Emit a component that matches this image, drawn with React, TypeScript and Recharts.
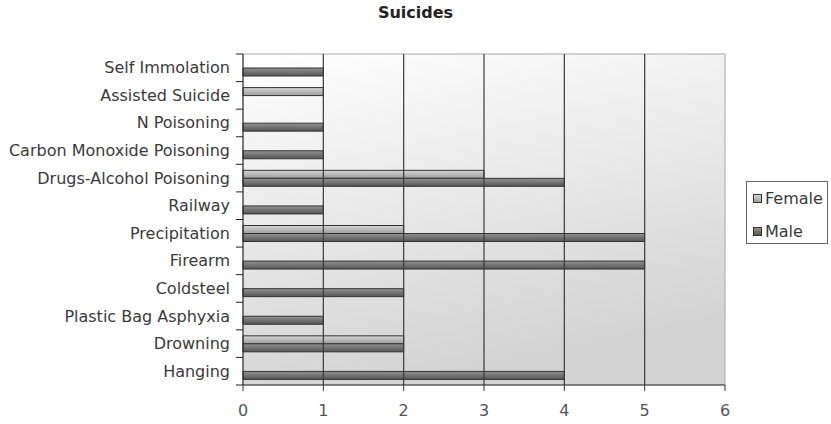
import React from 'react';
import { BarChart, Bar, XAxis, YAxis, CartesianGrid, ReferenceLine, ReferenceArea } from 'recharts';

const categories = [
  'Self Immolation',
  'Assisted Suicide',
  'N Poisoning',
  'Carbon Monoxide Poisoning',
  'Drugs-Alcohol Poisoning',
  'Railway',
  'Precipitation',
  'Firearm',
  'Coldsteel',
  'Plastic Bag Asphyxia',
  'Drowning',
  'Hanging',
];
const female = [0, 1, 0, 0, 3, 0, 2, 0, 0, 0, 2, 0];
const male = [1, 0, 1, 1, 4, 1, 5, 5, 2, 1, 2, 4];
const xTicks = [0, 1, 2, 3, 4, 5, 6];
const gridValues = [1, 2, 3, 4, 5];
const seriesNames = ['Female', 'Male'];

const W = 831;
const H = 424;
const MARGIN = { top: 54, right: 106, bottom: 9, left: 0 };
const X_AXIS_H = 30;
const PLOT_H = H - MARGIN.top - MARGIN.bottom - X_AXIS_H;
const FONT = '"DejaVu Sans", Verdana, sans-serif';

const data = categories.map((name, i) => ({ name, Female: female[i], Male: male[i] }));

// y labels sit mid-band, tick marks at the band edges (Excel style)
function YTick(props: any) {
  const { x, y, payload, index } = props;
  const band = PLOT_H / categories.length;
  return (
    <g>
      <line x1={x - 7} x2={x} y1={y - band / 2} y2={y - band / 2} stroke="#222" />
      {index === categories.length - 1 && (
        <line x1={x - 7} x2={x} y1={y + band / 2} y2={y + band / 2} stroke="#222" />
      )}
      <text x={x - 13} y={y} textAnchor="end" dominantBaseline="central" fill="#3a3a3a" fontSize={16} fontFamily={FONT}>
        {payload.value}
      </text>
    </g>
  );
}

export default function App() {
  return (
    <div style={{ position: 'absolute', left: 0, top: 0, width: W, height: H, background: '#fff' }}>
      <div
        style={{
          position: 'absolute',
          left: 0,
          top: 5,
          width: W,
          textAlign: 'center',
          fontFamily: FONT,
          fontWeight: 'bold',
          fontSize: 16,
          lineHeight: '16px',
          color: '#222',
        }}
      >
        Suicides
      </div>
      <BarChart width={W} height={H} data={data} layout="vertical" margin={MARGIN} barSize={8} barGap={0}>
        <defs>
          <linearGradient id="bg" x1="0" y1="0" x2="0.3" y2="1">
            <stop offset="0%" stopColor="#ffffff" />
            <stop offset="100%" stopColor="#d3d3d3" />
          </linearGradient>
          <linearGradient id="femaleFill" x1="0" y1="0" x2="0" y2="1">
            <stop offset="0%" stopColor="#d6d6d6" />
            <stop offset="100%" stopColor="#9c9c9c" />
          </linearGradient>
          <linearGradient id="maleFill" x1="0" y1="0" x2="0" y2="1">
            <stop offset="0%" stopColor="#929292" />
            <stop offset="100%" stopColor="#555555" />
          </linearGradient>
        </defs>
        <CartesianGrid horizontal={false} vertical={false} fill="url(#bg)" fillOpacity={1} />
        <ReferenceArea x1={0} x2={6} fill="none" stroke="#a8a8a8" ifOverflow="extendDomain" />
        {gridValues.map((v) => (
          <ReferenceLine key={v} x={v} stroke="#3a3a3a" strokeWidth={1.2} />
        ))}
        <XAxis
          type="number"
          domain={[0, 6]}
          ticks={xTicks}
          height={X_AXIS_H}
          tickSize={6}
          tickMargin={14}
          stroke="#333"
          tick={{ fill: '#555', fontSize: 16, fontFamily: FONT }}
        />
        <YAxis
          type="category"
          dataKey="name"
          width={243}
          tickSize={0}
          tickMargin={0}
          interval={0}
          stroke="#222"
          tick={<YTick />}
        />
        <Bar dataKey="Female" fill="url(#femaleFill)" stroke="#333" strokeWidth={1} isAnimationActive={false} />
        <Bar dataKey="Male" fill="url(#maleFill)" stroke="#333" strokeWidth={1} isAnimationActive={false} />
      </BarChart>
      <div
        style={{
          position: 'absolute',
          left: 746,
          top: 181,
          width: 82,
          height: 63,
          border: '1px solid #666',
          fontFamily: FONT,
          fontSize: 16,
          color: '#3a3a3a',
          boxSizing: 'border-box',
        }}
      >
        {seriesNames.map((s, i) => (
          <div key={s} style={{ position: 'absolute', left: 6, top: 8 + i * 33, height: 18, lineHeight: '18px', whiteSpace: 'nowrap' }}>
            <span
              style={{
                display: 'inline-block',
                width: 7,
                height: 7,
                border: '1px solid #333',
                background: i === 0 ? 'linear-gradient(#d6d6d6, #9c9c9c)' : 'linear-gradient(#929292, #555555)',
                marginRight: 3,
                verticalAlign: 'middle',
                position: 'relative',
                top: -1,
              }}
            />
            {s}
          </div>
        ))}
      </div>
    </div>
  );
}
